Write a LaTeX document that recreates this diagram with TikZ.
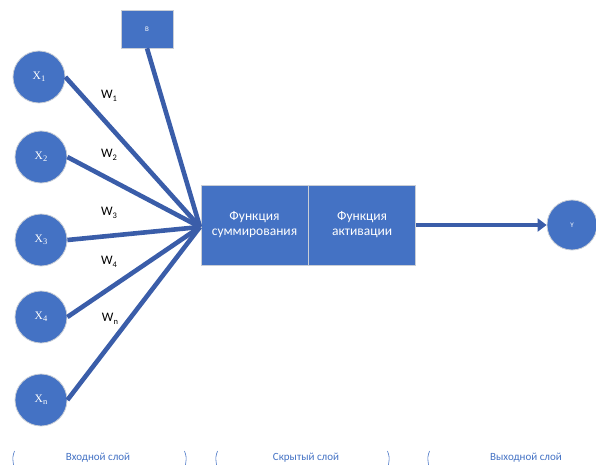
\documentclass[tikz,border=0pt]{standalone}
\usepackage{fontspec}
\setmainfont{Carlito}
\newfontfamily\serifx{Liberation Serif}
\usepackage{tikz}
\usetikzlibrary{positioning,calc,arrows.meta}

\definecolor{nodeblue}{HTML}{4472C4}
\definecolor{edgeblue}{HTML}{3A5DA9}
\definecolor{rimgray}{HTML}{C9CED6}
\newcommand{\lowidx}[1]{\raisebox{-0.4ex}{\fontsize{8.5}{9}\selectfont #1}}

\begin{document}
\begin{tikzpicture}[x=1pt, y=-1pt,
  inode/.style={circle, fill=nodeblue, draw=rimgray, line width=0.8pt, minimum size=52pt, inner sep=0pt, text=white, font=\serifx\fontsize{11.5}{12}\selectfont},
  fbox/.style={rectangle, fill=nodeblue, draw=rimgray, line width=0.6pt, minimum width=107pt, minimum height=80pt, inner sep=0pt, text=white, align=center, font=\fontsize{13.5}{15}\selectfont},
  wire/.style={edgeblue, line width=4.6pt},
  wlab/.style={font=\fontsize{13}{14}\selectfont},
  layer/.style={text=nodeblue, font=\fontsize{11}{12}\selectfont},
  brk/.style={nodeblue, line width=0.6pt}]
\useasboundingbox (0,0) rectangle (596,465);

% inputs
\node[inode] (x1) at (39,77) {X\lowidx{1}};
\node[inode] (x2) at (41,157) {X\lowidx{2}};
\node[inode] (x3) at (41,240) {X\lowidx{3}};
\node[inode] (x4) at (41,317) {X\lowidx{4}};
\node[inode] (xn) at (41,400) {X\lowidx{n}};

% bias
\node[rectangle, fill=nodeblue, draw=rimgray, line width=0.6pt, minimum width=52pt, minimum height=38pt, text=white, font=\fontsize{7}{8}\selectfont] (bias) at (147,29) {B};

% hidden
\node[fbox] (sum) at (254.5,225) {Функция\\суммирования};
\node[fbox, right=0pt of sum] (act) {Функция\\активации};

% output
\node[inode, minimum size=50pt, font=\fontsize{7}{8}\selectfont] (y) at (572,225) {Y};

\coordinate (hub) at (200,227);

\draw[wire] (x1.east) -- (hub);
\draw[wire] (x2.east) -- (hub);
\draw[wire] (x3.east) -- (hub);
\draw[wire] (x4.east) -- (hub);
\draw[wire] (xn.east) -- (hub);
\draw[wire] (bias.south) -- (hub);
\draw[wire, -{Triangle[length=9pt,width=13pt]}] (act.east) -- (y.west);

% weights
\node[wlab] (w1) at (109,96) {W\lowidx{1}};
\node[wlab] (w2) at (109,155) {W\lowidx{2}};
\node[wlab] (w3) at (109,213) {W\lowidx{3}};
\node[wlab] (w4) at (109,262) {W\lowidx{4}};
\node[wlab] (wn) at (110,319) {W\lowidx{n}};

% layers
\node[layer] (lin) at (98,458) {Входной слой};
\node[layer] (lhid) at (306,458) {Скрытый слой};
\node[layer] (lout) at (526,458) {Выходной слой};

\foreach \xx in {13,216,428}
  \draw[brk] (\xx+1.5,451) .. controls (\xx-0.5,457) .. (\xx+0.5,465);
\foreach \xx in {186,389}
  \draw[brk] (\xx-1.5,451) .. controls (\xx+0.5,457) .. (\xx-0.5,465);
\end{tikzpicture}
\end{document}
